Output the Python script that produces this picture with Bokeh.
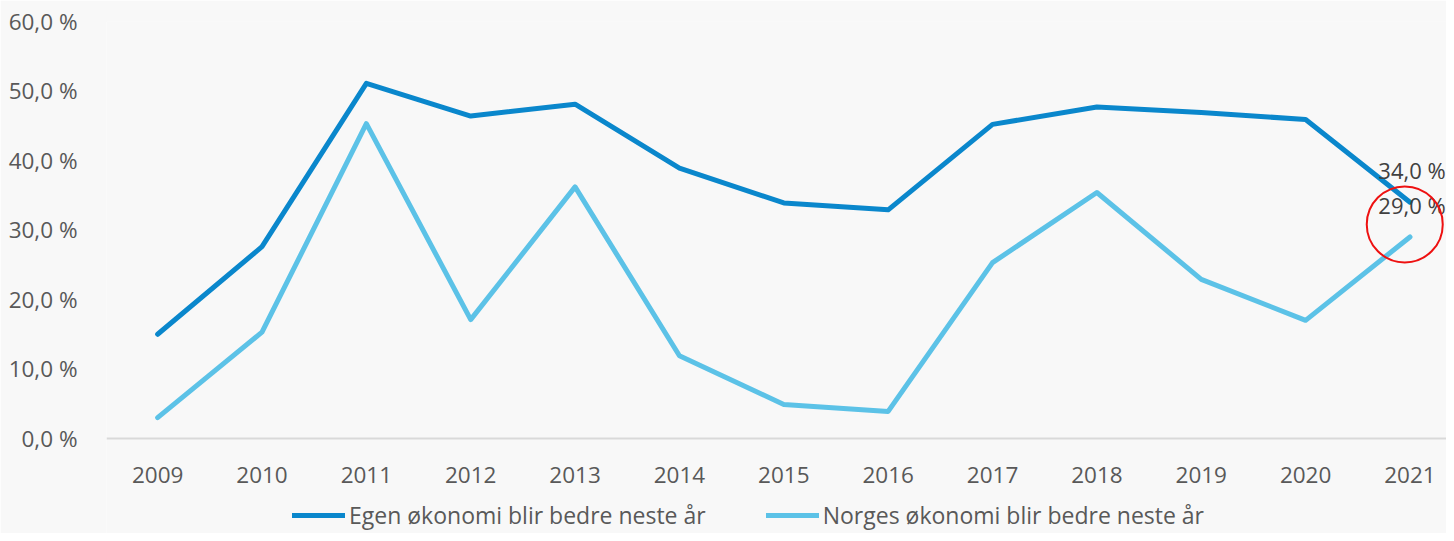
from bokeh.plotting import figure
from bokeh.models import FixedTicker, Legend, LegendItem, CustomJSTickFormatter, Range1d
from bokeh.core.properties import value
from bokeh.embed import file_html
from bokeh.resources import INLINE

years = [2009, 2010, 2011, 2012, 2013, 2014, 2015, 2016, 2017, 2018, 2019, 2020, 2021]
egen = [15.0, 27.6, 51.1, 46.4, 48.1, 38.9, 33.9, 32.9, 45.2, 47.7, 46.9, 45.9, 34.0]
norges = [3.0, 15.3, 45.3, 17.1, 36.2, 11.9, 4.9, 3.9, 25.3, 35.4, 22.9, 17.0, 29.0]
series_names = ["Egen økonomi blir bedre neste år", "Norges økonomi blir bedre neste år"]
y_ticks = [0, 10, 20, 30, 40, 50, 60]

FONT = "Open Sans"
BG = "#f8f8f8"
DARK = "#0a87cc"
LIGHT = "#5cc2e7"

# frame runs to the bottom of the figure; y=0 sits where the x axis is drawn
p = figure(width=1446, height=533, output_backend="svg", toolbar_location=None,
           x_range=Range1d(2008.51, 2021.35), y_range=Range1d(-13.67, 60),
           background_fill_color=BG, border_fill_color=BG,
           min_border_left=106, min_border_right=0, min_border_top=21, min_border_bottom=0)
p.outline_line_color = None
p.grid.grid_line_color = None

r1 = p.line(years, egen, line_color=DARK, line_width=5, line_join="round", line_cap="round")
r2 = p.line(years, norges, line_color=LIGHT, line_width=5, line_join="round", line_cap="round")

# data labels for last point
last_vals = [egen[-1], norges[-1]]
p.text([years[-1]] * 2, last_vals,
       text=[f"{v:.1f}".replace(".", ",") + " %" for v in last_vals],
       text_font=value(FONT), text_font_size="22px", text_color="#404040",
       text_align="center", text_baseline="middle", x_offset=2, y_offset=-32)

# red highlight circle around labels
p.scatter([years[-1] - 0.05], [(last_vals[0] + last_vals[1]) / 2 - 0.7], marker="circle", size=76,
          fill_color=None, line_color="#ee1111", line_width=2)

p.xaxis.ticker = FixedTicker(ticks=years)
p.xaxis.formatter = CustomJSTickFormatter(code="return tick.toFixed(0);")
p.xaxis.fixed_location = 0
p.yaxis.ticker = FixedTicker(ticks=y_ticks)
p.yaxis.formatter = CustomJSTickFormatter(code="return tick.toFixed(1).replace('.', ',') + ' %';")

for ax in (p.xaxis[0], p.yaxis[0]):
    ax.major_tick_line_color = None
    ax.minor_tick_line_color = None
    ax.major_label_text_font = FONT
    ax.major_label_text_font_size = "22.5px"
    ax.major_label_text_color = "#595959"
p.yaxis.axis_line_color = None
p.yaxis.major_label_standoff = 23
p.xaxis.axis_line_color = "#d9d9d9"
p.xaxis.axis_line_width = 2
p.xaxis.major_label_standoff = 23

legend = Legend(items=[LegendItem(label=series_names[0], renderers=[r1]),
                       LegendItem(label=series_names[1], renderers=[r2])],
                orientation="horizontal", location=(186, 2),
                background_fill_alpha=0, border_line_color=None,
                label_text_font=FONT, label_text_font_size="23px", label_text_color="#595959",
                glyph_width=53, glyph_height=22, spacing=60, label_standoff=4, padding=0, margin=0)
p.add_layout(legend, "center")

open("out.html", "w").write(file_html(p, INLINE))
